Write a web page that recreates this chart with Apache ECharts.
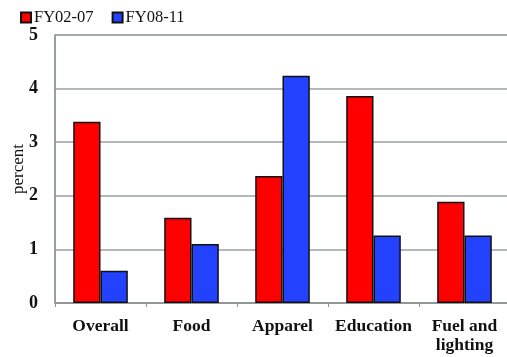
<!DOCTYPE html>
<html>
<head>
<meta charset="utf-8">
</head>
<body style="margin:0; background:#fff">
<div id="container" style="width:507px; height:357px"></div>
<script src="https://cdn.jsdelivr.net/npm/echarts@6/dist/echarts.min.js"></script>
<script>
// values
const categories = ['Overall', 'Food', 'Apparel', 'Education', 'Fuel and\nlighting'];
const fy0207 = [3.38, 1.59, 2.37, 3.86, 1.89];
const fy0811 = [0.6, 1.1, 4.24, 1.26, 1.26];

const serif = '"Liberation Serif", "DejaVu Serif", serif';

const chart = echarts.init(document.getElementById('container'), null, { renderer: 'canvas' });

chart.setOption({
    animation: false,
    legend: {
        left: 15,
        top: 4,
        itemWidth: 10,
        itemHeight: 10,
        itemGap: 18,
        icon: 'rect',
        textStyle: { fontFamily: serif, fontSize: 16.5, color: '#111', padding: [0, 0, 0, -2] },
        data: ['FY02-07', 'FY08-11']
    },
    grid: {
        left: 55,
        right: -3,
        top: 35,
        bottom: 54,
        outerBoundsMode: 'none',
        show: true,
        borderColor: '#8a9290',
        borderWidth: 1
    },
    xAxis: {
        type: 'category',
        data: categories,
        axisLine: { lineStyle: { color: '#8a9290', width: 1.5 } },
        axisTick: { show: true, length: 4, lineStyle: { color: '#8a9290' } },
        axisLabel: {
            fontFamily: serif,
            fontSize: 17.5,
            fontWeight: 'bold',
            color: '#111',
            margin: 14,
            lineHeight: 19,
            interval: 0
        }
    },
    yAxis: {
        type: 'value',
        min: 0,
        max: 5,
        interval: 1,
        name: 'percent',
        nameLocation: 'middle',
        nameGap: 28,
        nameMoveOverlap: false,
        nameTextStyle: { fontFamily: serif, fontSize: 17, color: '#111' },
        axisLine: { show: true, lineStyle: { color: '#8a9290', width: 1.5 } },
        axisTick: { show: false },
        axisLabel: {
            fontFamily: serif,
            fontSize: 18,
            fontWeight: 'bold',
            color: '#111',
            margin: 17
        },
        splitLine: { lineStyle: { color: '#9aa2a0', width: 1.5 } }
    },
    series: [
        {
            name: 'FY02-07',
            type: 'bar',
            data: fy0207,
            barGap: '0%',
            barCategoryGap: '40%',
            itemStyle: { color: '#ff0000', borderColor: '#111', borderWidth: 1.5 }
        },
        {
            name: 'FY08-11',
            type: 'bar',
            data: fy0811,
            itemStyle: { color: '#2342ff', borderColor: '#111', borderWidth: 1.5 }
        }
    ]
});
</script>
</body>
</html>
